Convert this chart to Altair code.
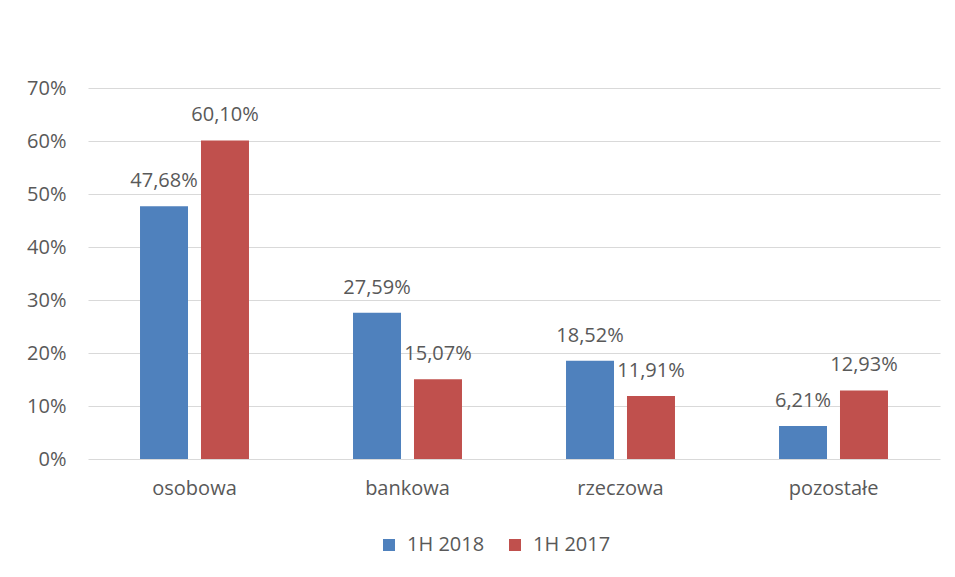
import altair as alt
import pandas as pd

categories = ["osobowa", "bankowa", "rzeczowa", "pozostałe"]
series = ["1H 2018", "1H 2017"]
values_2018 = [47.68, 27.59, 18.52, 6.21]
values_2017 = [60.10, 15.07, 11.91, 12.93]
y_ticks = [0, 10, 20, 30, 40, 50, 60, 70]
colors = ["#4F81BD", "#C0504D"]
title_text = "Sprzedaż wg rodzajów spraw (%)"

rows = []
for c, a, b in zip(categories, values_2018, values_2017):
    rows.append({"kat": c, "seria": series[0], "v": a})
    rows.append({"kat": c, "seria": series[1], "v": b})
df = pd.DataFrame(rows)
df["label"] = df["v"].map(lambda v: f"{v:.2f}".replace(".", ",") + "%")

FONT = "Open Sans"
GREY = "#595959"
FS = 20

x = alt.X("kat:N", sort=categories,
          scale=alt.Scale(paddingInner=0, paddingOuter=0),
          axis=alt.Axis(title=None, labelAngle=0, ticks=False, domain=False,
                        labelPadding=19, labelFontSize=FS, labelColor=GREY,
                        labelFont=FONT, grid=False))
xo = alt.XOffset("seria:N", sort=series,
                 scale=alt.Scale(paddingInner=0.213, paddingOuter=0.853))
y = alt.Y("v:Q", scale=alt.Scale(domain=[0, 70]),
          axis=alt.Axis(values=y_ticks, labelExpr="datum.value + '%'", title=None,
                        domain=False, ticks=False, labelPadding=22,
                        labelFontSize=FS, labelColor=GREY, labelFont=FONT,
                        gridColor="#D9D9D9", gridWidth=1))
color = alt.Color("seria:N", sort=series,
                  scale=alt.Scale(domain=series, range=colors),
                  legend=alt.Legend(title=None, orient="none", legendX=291, legendY=447,
                                    direction="horizontal", symbolType="square",
                                    symbolSize=144, symbolStrokeWidth=0,
                                    labelFontSize=FS, labelColor=GREY, labelFont=FONT,
                                    labelOffset=8, columnPadding=20))

base = alt.Chart(df)
bars = base.mark_bar().encode(x=x, xOffset=xo, y=y, color=color)
labels = base.mark_text(baseline="alphabetic", dy=-19, fontSize=FS, font=FONT,
                        color=GREY).encode(x=x, xOffset=xo, y=y, text="label:N")

chart = alt.layer(bars, labels).properties(
    width=852, height=371,
    autosize=alt.AutoSizeParams(type="none"),
    padding={"left": 80, "top": 80, "right": 7, "bottom": 100},
).configure(background="white").configure_view(stroke="transparent", strokeWidth=0)

chart.save("out.html", embed_options={"renderer": "svg", "actions": False})
